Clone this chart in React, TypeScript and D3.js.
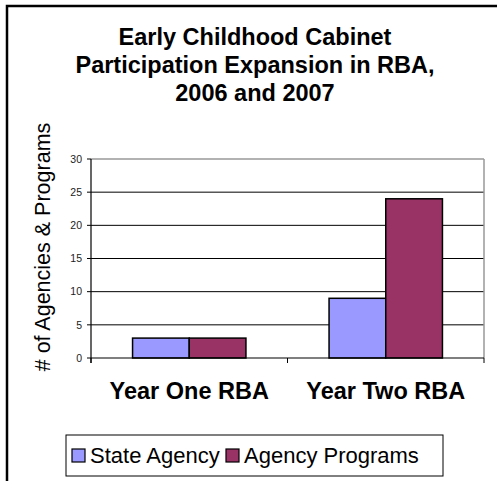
import React from "react";
import * as d3 from "d3";

const titleLines = ["Early Childhood Cabinet", "Participation Expansion in RBA,", "2006 and 2007"];
const categories = ["Year One RBA", "Year Two RBA"];
const seriesNames = ["State Agency", "Agency Programs"];
const stateAgency = [3, 9];
const agencyPrograms = [3, 24];
const yTicks = [0, 5, 10, 15, 20, 25, 30];
const yTitle = "# of Agencies & Programs";
const colors = ["#9999FF", "#993366"];

const W = 497;
const H = 481;
const FONT = "'Liberation Sans', Arial, sans-serif";

export default function App() {
  const x0 = 91, x1 = 484, yTop = 159, yBot = 358;
  const y = d3.scaleLinear().domain([0, 30]).range([yBot, yTop]);
  const xCat = d3.scaleBand<string>().domain(categories).range([x0, x1]).paddingInner(0).paddingOuter(0);
  const xSer = d3
    .scaleBand<string>()
    .domain(seriesNames)
    .range([0, xCat.bandwidth()])
    .paddingInner(0)
    .paddingOuter(0.733);
  const seriesValues = [stateAgency, agencyPrograms];

  const legendItems = seriesNames.map((name, i) => ({ name, color: colors[i] }));
  const legendX = 66, legendY = 435, legendW = 377, legendH = 41;
  const legendPos = [
    { sq: 72, tx: 90 },
    { sq: 226, tx: 244 },
  ];

  return (
    <svg
      width={W}
      height={H}
      style={{ position: "absolute", left: 0, top: 0, background: "#fff" }}
      fontFamily={FONT}
    >
      <rect x={0} y={0} width={W} height={H} fill="#fff" />
      {/* outer chart border */}
      <rect x={7} y={6} width={W + 10} height={H + 10} fill="none" stroke="#000" strokeWidth={2.5} />

      {/* title */}
      {titleLines.map((t, i) => (
        <text
          key={i}
          x={255}
          y={45 + i * 28}
          textAnchor="middle"
          fontWeight="bold"
          fontSize={23.5}
          fill="#000"
        >
          {t}
        </text>
      ))}

      {/* gridlines */}
      {yTicks.filter((t) => t > 0 && t < 30).map((t) => (
        <line key={t} x1={x0} x2={x1} y1={y(t)} y2={y(t)} stroke="#000" strokeWidth={1} />
      ))}
      {/* plot border top/right */}
      <line x1={x0} x2={x1} y1={y(30)} y2={y(30)} stroke="#999" strokeWidth={1.5} />
      <line x1={x1} x2={x1} y1={y(30)} y2={yBot} stroke="#999" strokeWidth={1.5} />

      {/* bars */}
      {categories.map((c, ci) =>
        seriesNames.map((s, si) => {
          const v = seriesValues[si][ci];
          const bx = (xCat(c) as number) + (xSer(s) as number);
          return (
            <rect
              key={c + s}
              x={bx}
              y={y(v)}
              width={xSer.bandwidth()}
              height={yBot - y(v)}
              fill={colors[si]}
              stroke="#000"
              strokeWidth={1.5}
            />
          );
        })
      )}

      {/* y axis */}
      <line x1={x0} x2={x0} y1={y(30)} y2={yBot + 5} stroke="#000" strokeWidth={1.2} />
      {yTicks.map((t) => (
        <g key={t}>
          <line x1={x0 - 4} x2={x0} y1={y(t)} y2={y(t)} stroke="#000" strokeWidth={1} />
          <text x={82} y={y(t)} dy="0.35em" textAnchor="end" fontSize={10.5} fill="#222">
            {t}
          </text>
        </g>
      ))}

      {/* x axis */}
      <line x1={x0} x2={x1} y1={yBot} y2={yBot} stroke="#000" strokeWidth={1.2} />
      {[...categories.map((c) => xCat(c) as number), x1].map((px, i) => (
        <line key={i} x1={px} x2={px} y1={yBot} y2={yBot + 5} stroke="#000" strokeWidth={1} />
      ))}
      {categories.map((c) => (
        <text
          key={c}
          x={(xCat(c) as number) + xCat.bandwidth() / 2}
          y={399}
          textAnchor="middle"
          fontWeight="bold"
          fontSize={23.5}
          fill="#000"
        >
          {c}
        </text>
      ))}

      {/* y title */}
      <text
        transform={`translate(50,247) rotate(-90)`}
        textAnchor="middle"
        fontSize={21.5}
        fill="#000"
      >
        {yTitle}
      </text>

      {/* legend */}
      <rect x={legendX} y={legendY} width={legendW} height={legendH} fill="#fff" stroke="#000" strokeWidth={1} />
      {legendItems.map((it, i) => (
        <g key={it.name}>
          <rect
            x={legendPos[i].sq}
            y={449}
            width={13}
            height={13}
            fill={it.color}
            stroke="#000"
            strokeWidth={1.2}
          />
          <text x={legendPos[i].tx} y={463} fontSize={22} fill="#000">
            {it.name}
          </text>
        </g>
      ))}
    </svg>
  );
}
